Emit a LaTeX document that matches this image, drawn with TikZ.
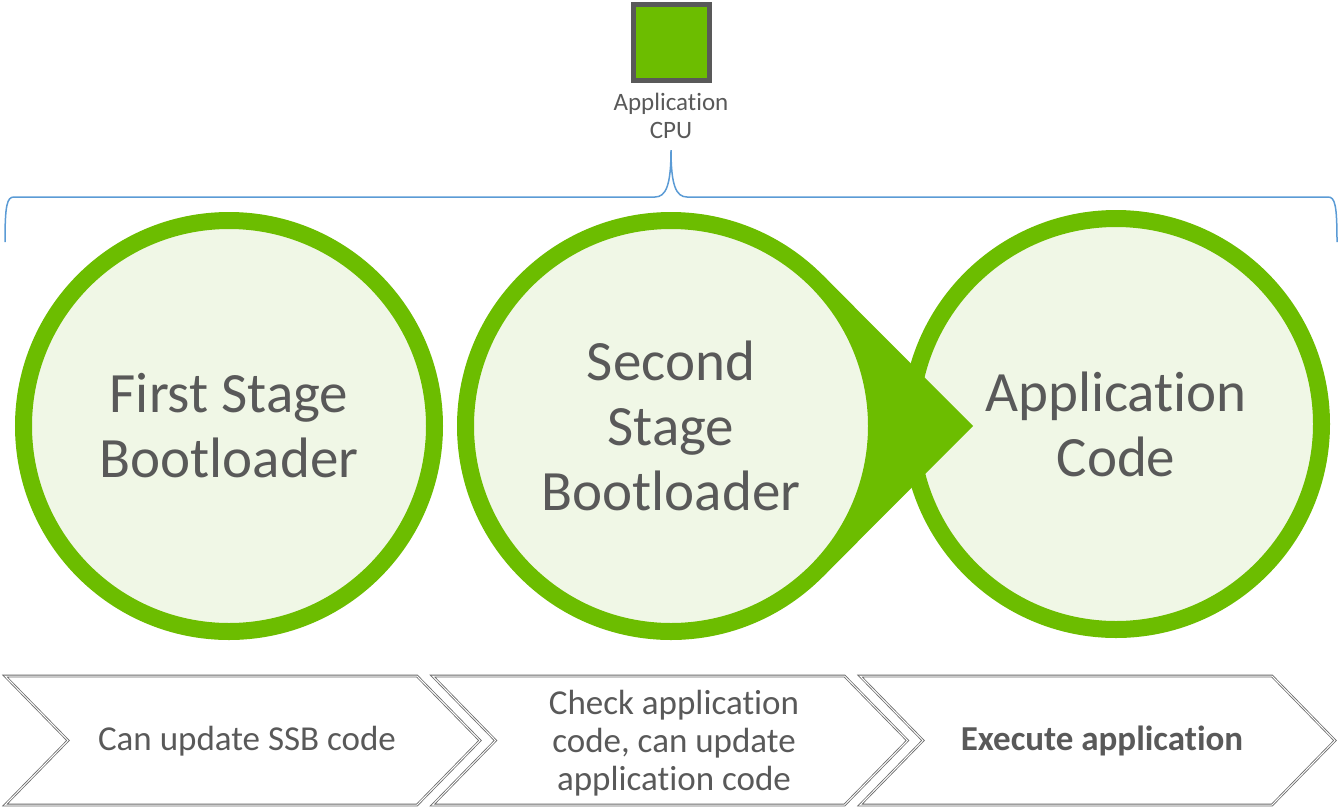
\documentclass[tikz,border=0pt]{standalone}
\usepackage{fontspec}
\setmainfont{Carlito}[Ligatures=NoCommon]
\usetikzlibrary{calc}

\definecolor{cpugreen}{HTML}{6CBD00}
\definecolor{palegreen}{HTML}{F0F7E6}
\definecolor{textgray}{HTML}{595959}
\definecolor{braceblue}{HTML}{5B9BD5}
\definecolor{chevgray}{HTML}{6A6A6A}

\tikzset{
    stage/.style={circle, draw=cpugreen, line width=17, fill=palegreen, minimum size=411,
        inner sep=0, text=textgray, align=center, font=\fontsize{57}{65}\selectfont},
    chevron/.style={draw=chevgray, line width=0.8, double=white, double distance=1},
    tasktext/.style={text=textgray, align=center, font=\fontsize{35}{38}\selectfont}
}

\begin{document}
\begin{tikzpicture}[x=1pt,y=-1pt]
    \useasboundingbox (0,0) rectangle (1339,809);

    % the CPU on top
    \node[draw=textgray, line width=5, fill=cpugreen, minimum size=76, inner sep=0] (cpu) at (671,42) {};
    \node[text=textgray, align=center, font=\fontsize{25}{28}\selectfont] (cpulabel) at (671,116) {Application\\CPU};

    % brace over the three stages
    \draw[braceblue, line width=1.5] (5,242) .. controls (5,205) and (7,197) .. (14,197)
        -- (655,197) .. controls (666,197) and (671,185) .. (671,150)
        .. controls (671,185) and (676,197) .. (687,197)
        -- (1328,197) .. controls (1335,197) and (1337,205) .. (1337,242);

    % boot stages
    \coordinate (ssbc) at (671,426);
    \coordinate (tip) at (973,426);
    \node[stage] (fsb) at (229,426) {First Stage\\Bootloader};
    \node[stage] (app) at (1116,424) {Application\\Code};
    \fill[cpugreen] (tip) -- ($(ssbc)+(44.9:214)$) -- ($(ssbc)+(-44.9:214)$) -- cycle;
    \node[stage] (ssb) at (ssbc) {Second\\Stage\\Bootloader};

    % what each stage does
    \foreach \x in {5,432.5,860}
        \draw[chevron] (\x,676) -- ++(412,0) -- ++(63,64.5) -- ++(-63,64.5) -- ++(-412,0)
            -- ++(63,-64.5) -- cycle;
    \node[tasktext] (task1) at (247,741) {Can update SSB code};
    \node[tasktext] (task2) at (674,743) {Check application\\code, can update\\application code};
    \node[tasktext, font=\fontsize{35}{38}\selectfont\bfseries] (task3) at (1102,741) {Execute application};
\end{tikzpicture}
\end{document}
